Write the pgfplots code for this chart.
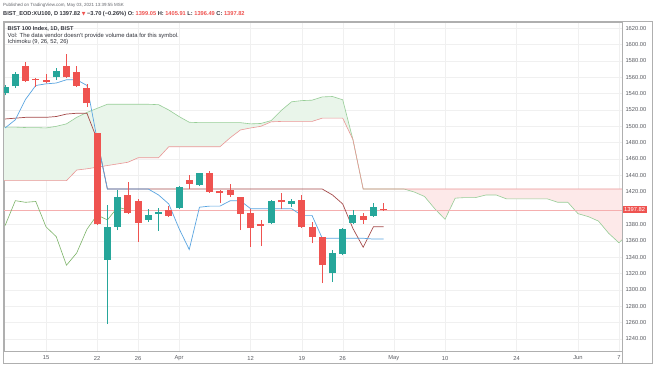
\documentclass[border=0pt]{standalone}
\usepackage{pgfplots}
\pgfplotsset{compat=1.18}
\usepackage{pgfplotstable}
\usepackage{fontspec}
\setmainfont{Liberation Sans}
\newfontfamily\dejavu{DejaVu Sans}

\definecolor{upc}{RGB}{38,166,154}
\definecolor{dnc}{RGB}{239,83,80}
\definecolor{tenkan}{RGB}{90,165,225}
\definecolor{kijun}{RGB}{165,75,75}
\definecolor{lag}{RGB}{125,180,105}
\definecolor{spA}{RGB}{150,205,150}
\definecolor{spB}{RGB}{235,150,150}
\definecolor{cloudG}{RGB}{233,245,234}
\definecolor{cloudR}{RGB}{253,233,233}
\definecolor{txt}{RGB}{50,52,60}
\definecolor{framec}{RGB}{175,175,175}
\definecolor{pline}{RGB}{245,175,175}

% candles: x o h l c
\pgfplotstableread{
x o h l c
-4 1541 1550 1538 1548
-3 1549 1566 1547 1564
1 1560 1571 1556.7 1567.5
6 1336.5 1404 1258 1377
7 1377 1422 1373 1414
10 1385.5 1399 1383 1392
11 1392.5 1400 1372 1395.5
13 1400 1427 1399 1426
15 1428 1443 1427 1442.5
22 1381.3 1410 1380 1409
24 1405 1411.5 1401.6 1408
28 1320 1348.6 1310 1345
29 1344 1375 1342 1374
30 1381.5 1397.6 1380 1391.5
32 1390.6 1406.5 1389 1401
}\up
\pgfplotstableread{
x o h l c
-2 1574 1579 1554 1555.5
-1 1557.5 1559 1548 1556.5
0 1557 1564 1553 1554.5
2 1574 1588.5 1559 1560
3 1566 1574 1548 1549.5
4 1547 1552 1524 1528
5 1491.5 1492 1379 1380
8 1416 1432 1393 1394.5
9 1409 1411 1359 1382
12 1397.5 1402.5 1389.5 1390.5
14 1434 1440.4 1423 1429.5
16 1443 1445.7 1419 1420
17 1421 1422 1406 1418
18 1422 1429.4 1414 1416
19 1413 1414 1373 1393
20 1393.5 1398.5 1352.7 1375
21 1381 1385.4 1353.5 1378.5
23 1410 1418 1398.5 1407
25 1410 1416 1375.6 1377
26 1376.4 1383 1357 1365
27 1364 1365 1308 1330
31 1390.6 1393.5 1380.5 1385.4
33 1399.05 1405.91 1396.49 1397.82
}\down

\pgfplotstableread{
x v
-4 1498
-3 1508
-2 1533
-1 1550
0 1552
1 1553
2 1557
3 1557
4 1550
5 1483.75
6 1423.25
7 1423.25
8 1423.25
9 1423.25
10 1423.25
11 1416
12 1405
13 1375
14 1349.2
15 1401
16 1402.35
17 1402.35
18 1408.85
19 1408.85
20 1399.2
21 1399.2
22 1399.2
23 1399.2
24 1399.2
25 1391
26 1391
27 1363
28 1363
29 1363
30 1363
31 1363
32 1362
33 1362
}\tenkantab

\pgfplotstableread{
x v
-4 1509
-3 1510
-2 1511
-1 1511
0 1511
1 1512
2 1515
3 1516
4 1516
5 1483.75
6 1423.25
27 1423.25
28 1416
29 1405
30 1375
31 1352
32 1377
33 1377
}\kijuntab

\pgfplotstableread{
x v
-4 1378.5
-3 1409
-2 1407
-1 1408
0 1377
1 1365
2 1330
3 1345
4 1374
5 1391.5
6 1385.4
7 1401
8 1397.82
}\lagtab

\pgfplotstableread{
x v
-5 1499
-4 1499
-3 1499
-2 1498.5
-1 1498.5
0 1498
1 1500
2 1503
3 1511
4 1517
5 1522
6 1527
7 1527
8 1527
9 1527
10 1527
11 1526.5
12 1520
13 1512
14 1505
15 1504.5
16 1504.5
17 1504.5
18 1504.5
19 1504.5
20 1503
21 1503.5
22 1507
23 1519.5
24 1530
25 1531.5
26 1532
27 1536
28 1536.5
29 1532.5
30 1483.75
31 1423.25
32 1423.25
33 1423.25
34 1423.25
35 1423.25
36 1419.6
37 1414.1
38 1399.1
39 1386.2
40 1412.1
41 1412.8
42 1412.8
43 1416
44 1416
45 1411.2
46 1411.2
47 1411.2
48 1411.2
49 1411.2
50 1407.1
51 1407.1
52 1393.1
53 1389.5
54 1384
55 1369
56 1357.5
57 1369.5
}\spanAtab

\pgfplotstableread{
x v
-5 1433.5
-4 1433.5
-3 1433.5
-2 1433.5
-1 1433.5
0 1433.5
1 1433.5
2 1433.5
3 1446.5
4 1448
5 1450
6 1452
7 1454
8 1456
9 1461.5
10 1461.5
11 1461.5
12 1475
13 1475
14 1475
15 1475
16 1475
17 1475
18 1486
19 1495.5
20 1498
21 1500
22 1505.5
23 1506
24 1506
25 1506
26 1506
27 1510
28 1510
29 1510
30 1483.75
31 1423.25
40 1423.25
50 1423.25
57 1423.25
}\spanBtab

\begin{document}
\begin{tikzpicture}
\useasboundingbox[fill=white] (0bp,0bp) rectangle (654bp,366bp);
\begin{axis}[
  at={(4bp,15bp)}, anchor=south west,
  scale only axis, width=618bp, height=329bp,
  xmin=-4.106, xmax=56.30, ymin=1225.0, ymax=1627.7,
  axis line style={draw=framec, line width=0.6bp},
  tick style={draw=none},
  xtick={0,5,9,13,20,25,29,34,39,46,52,56},
  xticklabels={15,22,26,Apr,12,19,26,May,10,24,Jun,7},
  ytick={1240,1260,...,1380,1420,1440,...,1620},
  yticklabel pos=right,
  /pgf/number format/assume math mode=true,
  yticklabel style={/pgf/number format/fixed, /pgf/number format/fixed zerofill,
    /pgf/number format/precision=2, /pgf/number format/1000 sep={}},
  ticklabel style={font=\fontsize{5.8}{7}\selectfont, text=txt!80},
  xticklabel style={yshift=-1.5bp},
  grid=major, major grid style={draw=gray!12, line width=0.4bp},
  extra y ticks={1397.82},
  extra y tick style={grid=none, yticklabel style={fill=dnc, text=white, inner xsep=2bp, inner ysep=1.5bp,
    /pgf/number format/fixed, /pgf/number format/fixed zerofill,
    /pgf/number format/precision=2, /pgf/number format/1000 sep={}}},
]
% cloud fills (polygons: span A forward, span B back)
\addplot[fill=cloudG, draw=none, forget plot] coordinates {
(-5,1499) (-4,1499) (-3,1499) (-2,1498.5) (-1,1498.5) (0,1498) (1,1500) (2,1503) (3,1511) (4,1517) (5,1522) (6,1527) (10,1527) (11,1526.5) (12,1520) (13,1512) (14,1505) (15,1504.5) (19,1504.5) (20,1503) (21,1503.5) (22,1507) (23,1519.5) (24,1530) (25,1531.5) (26,1532) (27,1536) (28,1536.5) (29,1532.5) (30,1483.75)
(29,1510) (27,1510) (26,1506) (23,1506) (22,1505.5) (21,1500) (20,1498) (19,1495.5) (18,1486) (17,1475) (12,1475) (11,1461.5) (9,1461.5) (8,1456) (7,1454) (6,1452) (5,1450) (4,1448) (3,1446.5) (2,1433.5) (-5,1433.5)};
\addplot[fill=cloudR, draw=none, forget plot] coordinates {
(30,1483.75) (31,1423.25) (57,1423.25)
(57,1369.5) (56,1357.5) (55,1369) (54,1384) (53,1389.5) (52,1393.1) (51,1407.1) (50,1407.1) (49,1411.2) (45,1411.2) (44,1416) (43,1416) (42,1412.8) (41,1412.8) (40,1412.1) (39,1386.2) (38,1399.1) (37,1414.1) (36,1419.6) (35,1423.25) (31,1423.25) (30,1483.75)};
\addplot[spA, line width=0.6bp, forget plot] table[x=x,y=v] {\spanAtab};
\addplot[spB, line width=0.6bp, forget plot] table[x=x,y=v] {\spanBtab};
% price line
\addplot[pline, line width=0.5bp, forget plot] coordinates {(-5,1397.82) (58,1397.82)};
% lines
\addplot[lag, line width=0.6bp, forget plot] table[x=x,y=v] {\lagtab};
\addplot[kijun, line width=0.7bp, forget plot] table[x=x,y=v] {\kijuntab};
\addplot[tenkan, line width=0.7bp, forget plot] table[x=x,y=v] {\tenkantab};
% wicks
\addplot[draw=none, mark=none, forget plot, error bars/.cd, y dir=plus, y explicit,
  error mark=none, error bar style={draw=upc, line width=0.7bp}]
  table[x=x, y=l, y error expr=\thisrow{h}-\thisrow{l}] {\up};
\addplot[draw=none, mark=none, forget plot, error bars/.cd, y dir=plus, y explicit,
  error mark=none, error bar style={draw=dnc, line width=0.7bp}]
  table[x=x, y=l, y error expr=\thisrow{h}-\thisrow{l}] {\down};
% bodies
\addplot[draw=none, mark=none, forget plot, error bars/.cd, y dir=plus, y explicit,
  error mark=none, error bar style={draw=upc, line width=7bp}]
  table[x=x, y expr={min(\thisrow{o},\thisrow{c})}, y error expr={max(abs(\thisrow{c}-\thisrow{o}),1.4)}] {\up};
\addplot[draw=none, mark=none, forget plot, error bars/.cd, y dir=plus, y explicit,
  error mark=none, error bar style={draw=dnc, line width=7bp}]
  table[x=x, y expr={min(\thisrow{o},\thisrow{c})}, y error expr={max(abs(\thisrow{c}-\thisrow{o}),1.4)}] {\down};
\end{axis}
\draw[framec, line width=0.7bp] (3bp,2.5bp) rectangle (652bp,344.5bp);
\draw[framec, line width=0.6bp] (622bp,2.5bp) -- (622bp,344.5bp);
\node[anchor=west, inner sep=0, font=\fontsize{4.5}{5}\selectfont, text=txt!75] at (3bp,361bp)
  {Published on TradingView.com, May 03, 2021 13:39:55 MSK};
\node[anchor=west, inner sep=0, font=\fontsize{5.7}{6.5}\selectfont\bfseries, text=txt] at (3bp,352bp)
  {BIST\_EOD:XU100, D 1397.82 \textcolor{dnc}{{\dejavu\fontsize{4.8}{5}\selectfont ▼}} −3.70 (−0.26\%) O: \textcolor{dnc}{1399.05} H: \textcolor{dnc}{1405.91} L: \textcolor{dnc}{1396.49} C: \textcolor{dnc}{1397.82}};
\node[anchor=west, inner sep=0, font=\fontsize{5.6}{6}\selectfont\bfseries, text=txt] at (7.5bp,336.7bp)
  {BIST 100 Index, 1D, BIST};
\node[anchor=west, inner sep=0, font=\fontsize{5.9}{6.5}\selectfont, text=txt] at (7.5bp,330.3bp)
  {Vol: The data vendor doesn't provide volume data for this symbol.};
\node[anchor=west, inner sep=0, font=\fontsize{5.8}{6.5}\selectfont, text=txt] at (7.5bp,323.7bp)
  {Ichimoku (9, 26, 52, 26)};
\end{tikzpicture}
\end{document}
